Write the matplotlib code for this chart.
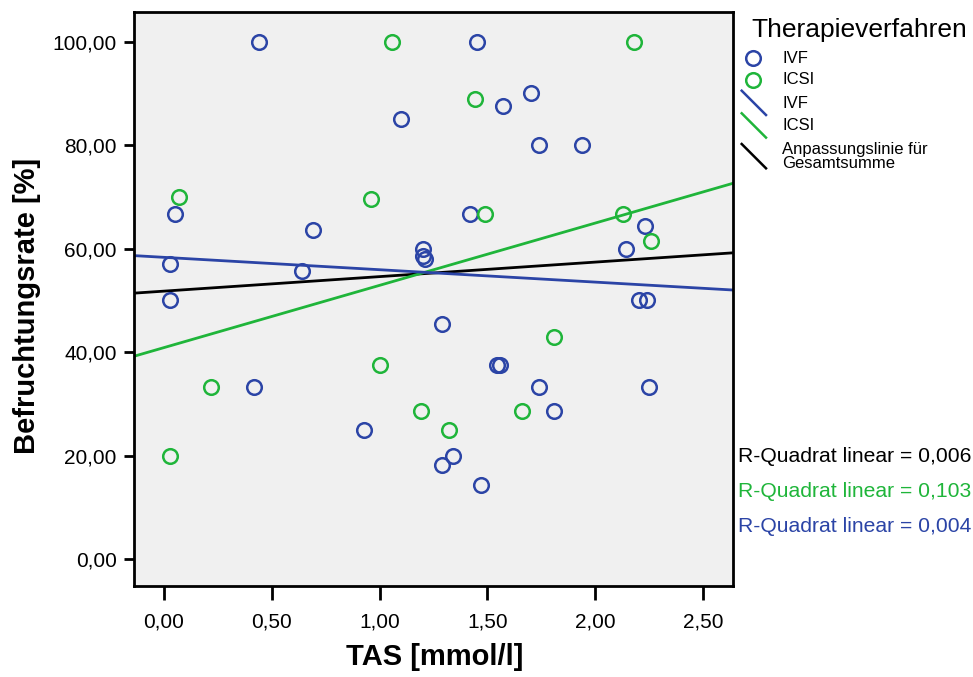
import numpy as np
import matplotlib
matplotlib.use("Agg")
import matplotlib.pyplot as plt
from matplotlib.lines import Line2D

plt.rcParams['font.family'] = ['Liberation Sans', 'DejaVu Sans']

# ---------------- data ----------------
ivf_tas = [0.44, 1.45, 1.70, 1.57, 1.10, 1.74, 1.94, 0.05, 1.42, 2.23, 0.69,
           1.20, 2.14, 1.20, 1.21, 0.03, 0.64, 0.03, 2.20, 2.24, 1.29, 1.545,
           1.56, 0.42, 1.74, 2.25, 1.81, 0.93, 1.34, 1.29, 1.47]
ivf_rate = [100.0, 100.0, 90.0, 87.5, 85.0, 80.0, 80.0, 66.7, 66.7, 64.3, 63.6,
            60.0, 60.0, 58.6, 57.9, 57.1, 55.6, 50.0, 50.0, 50.0, 45.5, 37.5,
            37.5, 33.3, 33.3, 33.3, 28.6, 25.0, 20.0, 18.2, 14.3]

icsi_tas = [1.06, 2.18, 1.44, 0.07, 0.96, 1.49, 2.13, 2.26, 1.81, 1.00, 0.22,
            1.19, 1.66, 1.32, 0.03]
icsi_rate = [100.0, 100.0, 88.9, 70.0, 69.6, 66.7, 66.7, 61.5, 42.9, 37.5, 33.3,
             28.6, 28.6, 25.0, 20.0]

x_ticks = [0.0, 0.5, 1.0, 1.5, 2.0, 2.5]
y_ticks = [0, 20, 40, 60, 80, 100]
r2_labels = ["R-Quadrat linear = 0,006", "R-Quadrat linear = 0,103",
             "R-Quadrat linear = 0,004"]
legend_title = "Therapieverfahren"
legend_labels = ["IVF", "ICSI", "IVF", "ICSI", "Anpassungslinie für\nGesamtsumme"]

BLUE = "#2b44a6"
GREEN = "#1fb53a"
BLACK = "#000000"

W, H = 973, 677
fig = plt.figure(figsize=(W / 100, H / 100), dpi=100)
fig.patch.set_facecolor("white")


def fx(px):
    return px / W


def fy(py):
    return 1 - py / H


ax_l, ax_r, ax_t, ax_b = 133.5, 733.3, 12.0, 586.0
ax = fig.add_axes([fx(ax_l), fy(ax_b), fx(ax_r) - fx(ax_l), fy(ax_t) - fy(ax_b)])
ax.set_facecolor("#f0f0f0")

xlim = (-0.14, 2.639)
ylim = (-5.2, 105.7)
ax.set_xlim(*xlim)
ax.set_ylim(*ylim)

# fit lines
xs = np.array(xlim)
all_x = np.array(ivf_tas + icsi_tas)
all_y = np.array(ivf_rate + icsi_rate)
for xd, yd, col in [(all_x, all_y, BLACK),
                    (np.array(icsi_tas), np.array(icsi_rate), GREEN),
                    (np.array(ivf_tas), np.array(ivf_rate), BLUE)]:
    b, a = np.polyfit(xd, yd, 1)
    ax.plot(xs, a + b * xs, color=col, lw=2.0, zorder=2, solid_capstyle='butt')

MS, MEW = 10.5, 1.8
ax.plot(ivf_tas, ivf_rate, linestyle='none', marker='o', ms=MS, mfc='none',
        mec=BLUE, mew=MEW, zorder=3)
ax.plot(icsi_tas, icsi_rate, linestyle='none', marker='o', ms=MS, mfc='none',
        mec=GREEN, mew=MEW, zorder=3)

ax.set_xticks(x_ticks)
ax.set_xticklabels([f"{v:.2f}".replace('.', ',') for v in x_ticks])
ax.set_yticks(y_ticks)
ax.set_yticklabels([f"{v:.2f}".replace('.', ',') for v in y_ticks])
ax.tick_params(axis='x', length=10, width=2.0, pad=9, labelsize=15, direction='out')
ax.tick_params(axis='y', length=7, width=2.0, pad=5, labelsize=15, direction='out')
for s in ax.spines.values():
    s.set_linewidth(2.0)
    s.set_color('black')

fig.text(fx(435), fy(657), "TAS [mmol/l]", fontsize=21, fontweight='bold',
         ha='center', va='center')
fig.text(fx(27), fy(306), "Befruchtungsrate [%]", fontsize=21, fontweight='bold',
         ha='center', va='center', rotation=90)

# R-squared annotations
for txt, col, py in zip(r2_labels, [BLACK, GREEN, BLUE], [456, 491.5, 526.5]):
    fig.text(fx(738), fy(py), txt, fontsize=15.2, color=col, ha='left', va='center')

# legend (manual)
fig.text(fx(751), fy(30), legend_title, fontsize=19, ha='left', va='center')
marker_rows = [(58.3, BLUE), (80.0, GREEN)]
for (py, col), lab in zip(marker_rows, legend_labels[:2]):
    fig.add_artist(Line2D([fx(753.3)], [fy(py)], marker='o', ms=MS, mfc='none',
                          mec=col, mew=MEW, linestyle='none', transform=fig.transFigure))
    fig.text(fx(782), fy(py), lab, fontsize=12, ha='left', va='center')
line_rows = [(90.7, 103.3, BLUE), (113.3, 126.0, GREEN), (144.0, 156.7, BLACK)]
for (py0, pyt, col), lab in zip(line_rows, legend_labels[2:]):
    fig.add_artist(Line2D([fx(741.7), fx(766)], [fy(py0), fy(py0 + 24.3)], color=col,
                          lw=1.8, transform=fig.transFigure))
    fig.text(fx(782), fy(pyt), lab, fontsize=12, ha='left', va='center',
             linespacing=0.9)

fig.savefig("out.png", dpi=100)
